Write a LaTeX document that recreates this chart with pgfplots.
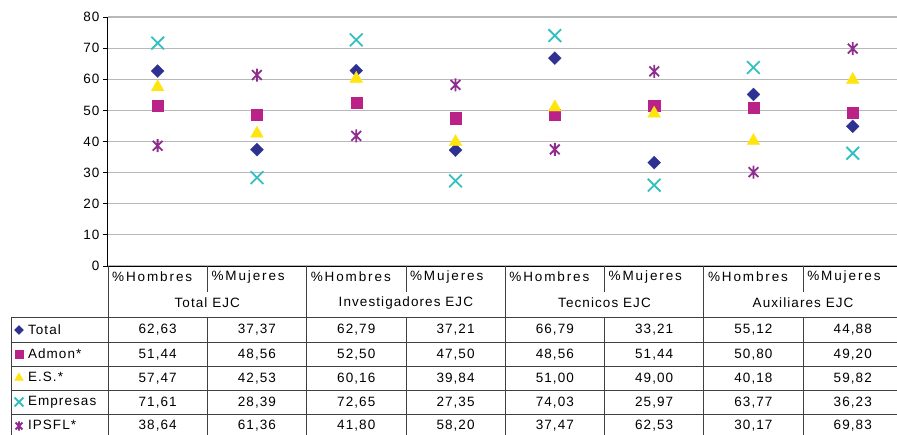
\documentclass[border=0pt]{standalone}
\usepackage{fontspec}
\setmainfont{Liberation Sans}
\usepackage{pgfplots}
\pgfplotsset{compat=1.18}
\definecolor{cTotal}{HTML}{2E3192}
\definecolor{cAdmon}{HTML}{BB2288}
\definecolor{cES}{HTML}{FFE40F}
\definecolor{cEmp}{HTML}{33C0C0}
\definecolor{cIps}{HTML}{8E2D8E}
\definecolor{tline}{HTML}{404040}
\pgfdeclareplotmark{bdiamond}{%
 \pgfpathmoveto{\pgfqpoint{0pt}{\pgfplotmarksize}}%
 \pgfpathlineto{\pgfqpoint{\pgfplotmarksize}{0pt}}%
 \pgfpathlineto{\pgfqpoint{0pt}{-\pgfplotmarksize}}%
 \pgfpathlineto{\pgfqpoint{-\pgfplotmarksize}{0pt}}%
 \pgfpathclose\pgfusepathqfillstroke}
\pgfdeclareplotmark{xstar}{%
 \pgfpathmoveto{\pgfqpoint{0pt}{\pgfplotmarksize}}\pgfpathlineto{\pgfqpoint{0pt}{-\pgfplotmarksize}}%
 \pgfpathmoveto{\pgfqpoint{-.75\pgfplotmarksize}{-.75\pgfplotmarksize}}\pgfpathlineto{\pgfqpoint{.75\pgfplotmarksize}{.75\pgfplotmarksize}}%
 \pgfpathmoveto{\pgfqpoint{-.75\pgfplotmarksize}{.75\pgfplotmarksize}}\pgfpathlineto{\pgfqpoint{.75\pgfplotmarksize}{-.75\pgfplotmarksize}}%
 \pgfusepathqstroke}
\newcommand\tf{\fontsize{13.5}{16}\selectfont\addfontfeatures{LetterSpace=8}}
\newcommand\hf{\fontsize{13.5}{16}\selectfont\addfontfeatures{LetterSpace=14}}
\begin{document}
\begin{tikzpicture}
\path[use as bounding box] (-108pt,-168pt) rectangle (789pt,266pt);
\begin{axis}[at={(0pt,0pt)}, anchor=south west, scale only axis,
 width=794.4pt, height=249pt,
 xmin=-0.5, xmax=7.5, ymin=0, ymax=80,
 axis lines*=left, xtick=\empty, ytick={0,10,...,80},
 tick align=outside, major tick length=5pt,
 ymajorgrids, grid style={black!28, line width=1.2pt},
 axis line style={black, line width=1pt}, tick style={black, line width=1pt},
 /pgf/number format/assume math mode=true,
 yticklabel style={font=\tf},
 clip=false,
 legend cell align=left,
 legend style={at={(-0.1221,-0.2088)}, anchor=north west, draw=none, fill=none,
   inner sep=0pt, outer sep=0pt, row sep=0pt, column sep=0pt, font=\tf,
   nodes={inner ysep=0pt, inner xsep=1pt, minimum height=24pt}},
 legend image code/.code={\path[draw=none, fill=none] (0pt,-3pt) rectangle (16pt,3pt);
   \draw[#1, mark options={scale=0.7}] plot coordinates {(8pt,0pt)};},
]
\addplot[only marks, mark=bdiamond, mark size=6.5pt, color=cTotal, line width=0.2pt]
 coordinates {(0,62.63) (1,37.37) (2,62.79) (3,37.21) (4,66.79) (5,33.21) (6,55.12) (7,44.88)};
\addlegendentry{Total}
\addplot[only marks, mark=square*, mark size=5.6pt, color=cAdmon, line width=0.2pt]
 coordinates {(0,51.44) (1,48.56) (2,52.50) (3,47.50) (4,48.56) (5,51.44) (6,50.80) (7,49.20)};
\addlegendentry{Admon*}
\addplot[only marks, mark=triangle*, mark size=7.5pt, color=cES, line width=0.2pt]
 coordinates {(0,57.47) (1,42.53) (2,60.16) (3,39.84) (4,51.00) (5,49.00) (6,40.18) (7,59.82)};
\addlegendentry{E.S.*}
\addplot[only marks, mark=x, mark size=9pt, color=cEmp, line width=1.8pt]
 coordinates {(0,71.61) (1,28.39) (2,72.65) (3,27.35) (4,74.03) (5,25.97) (6,63.77) (7,36.23)};
\addlegendentry{Empresas}
\addplot[only marks, mark=xstar, mark size=6.5pt, color=cIps, line width=1.8pt]
 coordinates {(0,38.64) (1,61.36) (2,41.80) (3,58.20) (4,37.47) (5,62.53) (6,30.17) (7,69.83)};
\addlegendentry{IPSFL*}
\end{axis}
% table grid
\begin{scope}[x=1pt, y=1pt, tline, line width=0.8pt]
\draw (0,0) -- (0,-170);
\foreach \k in {1,2,3,4} \draw ({198.6*\k},0) -- ({198.6*\k},-170);
\foreach \k in {0,1,2,3} {
  \draw ({99.3*(2*\k+1)},0) -- ({99.3*(2*\k+1)},-26);
  \draw ({99.3*(2*\k+1)},-51) -- ({99.3*(2*\k+1)},-170);
}
\foreach \yy in {-51,-76.5,-100.5,-124.5,-148.5} \draw (-97,\yy) -- (800,\yy);
\draw (-97,-51) -- (-97,-170);
\end{scope}
% table text
\begin{scope}[x=1pt, y=1pt, font=\tf, inner sep=0pt]
\foreach \k in {0,1,2,3} {
  \node[anchor=west, font=\hf] at ({99.3*(2*\k)+4},-11) {\%Hombres};
  \node[anchor=west, font=\hf] at ({99.3*(2*\k+1)+4},-11) {\%Mujeres};
}
\foreach \g [count=\k from 0] in {Total EJC, Investigadores EJC, Tecnicos EJC, Auxiliares EJC}
  \node at ({99.3*(2*\k+1)},-37) {\g};
\foreach \v [count=\i from 0] in {{62,63},{37,37},{62,79},{37,21},{66,79},{33,21},{55,12},{44,88}}
  \node at ({99.3*(\i+0.5)},-64) {\v};
\foreach \v [count=\i from 0] in {{51,44},{48,56},{52,50},{47,50},{48,56},{51,44},{50,80},{49,20}}
  \node at ({99.3*(\i+0.5)},-88.5) {\v};
\foreach \v [count=\i from 0] in {{57,47},{42,53},{60,16},{39,84},{51,00},{49,00},{40,18},{59,82}}
  \node at ({99.3*(\i+0.5)},-112.5) {\v};
\foreach \v [count=\i from 0] in {{71,61},{28,39},{72,65},{27,35},{74,03},{25,97},{63,77},{36,23}}
  \node at ({99.3*(\i+0.5)},-136.5) {\v};
\foreach \v [count=\i from 0] in {{38,64},{61,36},{41,80},{58,20},{37,47},{62,53},{30,17},{69,83}}
  \node at ({99.3*(\i+0.5)},-160) {\v};
\end{scope}
\end{tikzpicture}
\end{document}
